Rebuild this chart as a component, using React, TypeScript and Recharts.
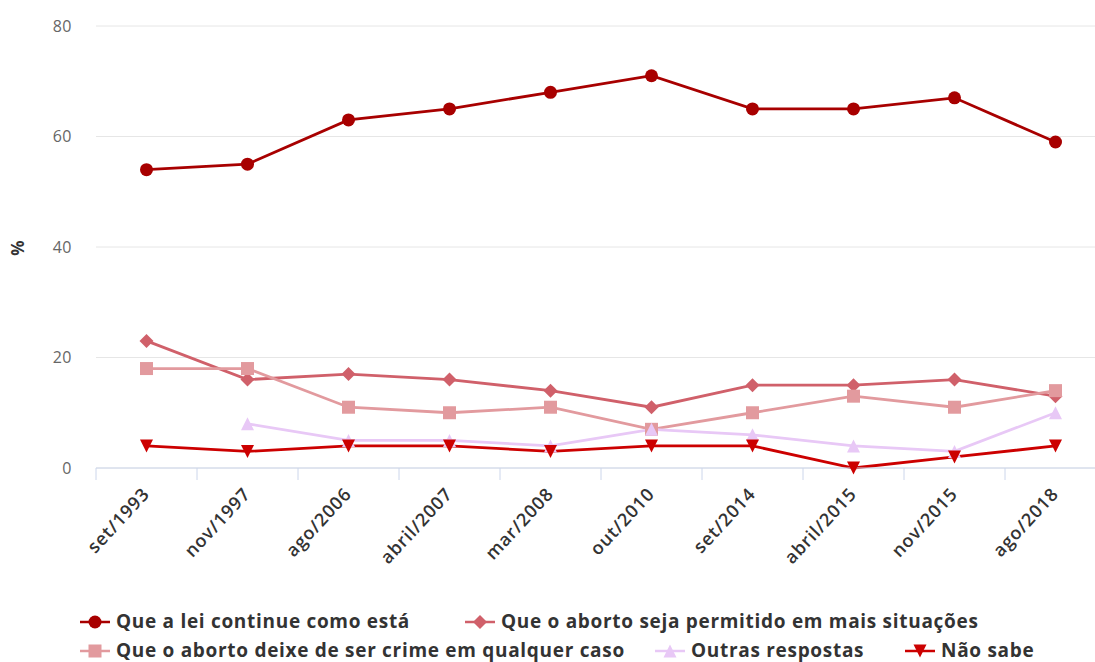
import { CartesianGrid, Legend, Line, LineChart, XAxis, YAxis } from "recharts";

const periods = [
  "set/1993", "nov/1997", "ago/2006", "abril/2007", "mar/2008",
  "out/2010", "set/2014", "abril/2015", "nov/2015", "ago/2018",
];

const leiContinue = [54, 55, 63, 65, 68, 71, 65, 65, 67, 59];
const maisSituacoes = [23, 16, 17, 16, 14, 11, 15, 15, 16, 13];
const deixeCrime = [18, 18, 11, 10, 11, 7, 10, 13, 11, 14];
const outras = [null, 8, 5, 5, 4, 7, 6, 4, 3, 10];
const naoSabe = [4, 3, 4, 4, 3, 4, 4, 0, 2, 4];

const yTicks = [0, 20, 40, 60, 80];

const data = periods.map((p, i) => ({
  periodo: p,
  lei: leiContinue[i],
  mais: maisSituacoes[i],
  crime: deixeCrime[i],
  outras: outras[i],
  naoSabe: naoSabe[i],
}));

type Shape = "circle" | "diamond" | "square" | "triangle" | "triangle-down";

const series: { key: string; name: string; color: string; shape: Shape }[] = [
  { key: "lei", name: "Que a lei continue como está", color: "#a80000", shape: "circle" },
  { key: "mais", name: "Que o aborto seja permitido em mais situações", color: "#d0606a", shape: "diamond" },
  { key: "crime", name: "Que o aborto deixe de ser crime em qualquer caso", color: "#e29a9e", shape: "square" },
  { key: "outras", name: "Outras respostas", color: "#e8c8f6", shape: "triangle" },
  { key: "naoSabe", name: "Não sabe", color: "#cc0000", shape: "triangle-down" },
];

const FONT = "'Open Sans', sans-serif";
const CHART_W = 1110;
const CHART_H = 662;
const PLOT_LEFT = 96;
const PLOT_RIGHT = 4;
const HALF_BAND = (CHART_W - PLOT_LEFT - PLOT_RIGHT) / periods.length / 2;

function Marker({ shape, cx, cy, color }: { shape: Shape; cx: number; cy: number; color: string }) {
  if (cx == null || cy == null) return null;
  switch (shape) {
    case "circle":
      return <circle cx={cx} cy={cy} r={6.5} fill={color} />;
    case "diamond":
      return <path d={`M${cx},${cy - 7}L${cx + 7},${cy}L${cx},${cy + 7}L${cx - 7},${cy}Z`} fill={color} />;
    case "square":
      return <rect x={cx - 6.5} y={cy - 6.5} width={13} height={13} fill={color} />;
    case "triangle":
      return <path d={`M${cx},${cy - 6.5}L${cx + 6.5},${cy + 6.5}L${cx - 6.5},${cy + 6.5}Z`} fill={color} />;
    default:
      return <path d={`M${cx - 6.5},${cy - 6.5}L${cx + 6.5},${cy - 6.5}L${cx},${cy + 6.5}Z`} fill={color} />;
  }
}

const XTick = (props: any) => {
  const { x, y, payload } = props;
  return (
    <g>
      <line x1={x - HALF_BAND} x2={x - HALF_BAND} y1={468} y2={480} stroke="#ccd6eb" />
      <g transform={`translate(${x + 4},${y + 19})`}>
        <text
          textAnchor="end"
          transform="rotate(-47)"
          fill="#333333"
          fontSize={18}
          fontWeight={600}
          letterSpacing={0.8}
          fontFamily={FONT}
        >
          {payload.value}
        </text>
      </g>
    </g>
  );
};

const legendRows = [
  [{ idx: 0, left: 80 }, { idx: 1, left: 465 }],
  [{ idx: 2, left: 80 }, { idx: 3, left: 655 }, { idx: 4, left: 905 }],
];

const LegendContent = () => (
  <div style={{ position: "relative", height: 62, fontFamily: FONT }}>
    {legendRows.map((row, r) =>
      row.map(({ idx, left }) => {
        const s = series[idx];
        return (
          <div
            key={s.key}
            style={{
              position: "absolute",
              left,
              top: r * 29 + 12,
              height: 19,
              display: "flex",
              alignItems: "center",
              whiteSpace: "nowrap",
              fontSize: 19,
              letterSpacing: 0.7,
              fontWeight: "bold",
              color: "#333333",
              lineHeight: "19px",
            }}
          >
            <svg width={30} height={16} style={{ marginRight: 6 }}>
              <line x1={0} x2={30} y1={8} y2={8} stroke={s.color} strokeWidth={2.5} />
              <Marker shape={s.shape} cx={15} cy={8} color={s.color} />
            </svg>
            {s.name}
          </div>
        );
      })
    )}
  </div>
);

export default function App() {
  return (
    <div style={{ position: "absolute", left: 0, top: 0, width: 1095, height: 662, overflow: "hidden", background: "#fff" }}>
      <LineChart
        width={CHART_W}
        height={CHART_H}
        data={data}
        margin={{ top: 26, right: PLOT_RIGHT, bottom: 0, left: 0 }}
      >
        <CartesianGrid vertical={false} stroke="#e6e6e6" />
        <XAxis
          dataKey="periodo"
          interval={0}
          height={132}
          padding={{ left: HALF_BAND, right: HALF_BAND }}
          tickLine={false}
          axisLine={{ stroke: "#ccd6eb" }}
          tick={<XTick />}
        />
        <YAxis
          width={PLOT_LEFT}
          domain={[0, 80]}
          ticks={yTicks}
          axisLine={false}
          tickLine={false}
          tickSize={0}
          tickMargin={24}
          tick={{ fill: "#666666", fontSize: 16, letterSpacing: 0.5, fontFamily: FONT }}
          label={{
            content: () => (
              <text
                x={19}
                y={248}
                transform="rotate(-90 19 248)"
                textAnchor="middle"
                dominantBaseline="middle"
                fill="#333333"
                fontSize={17}
                fontWeight="bold"
                fontFamily={FONT}
              >
                %
              </text>
            ),
          }}
        />
        <Legend verticalAlign="bottom" height={62} content={<LegendContent />} />
        {series.map((s) => (
          <Line
            key={s.key}
            dataKey={s.key}
            name={s.name}
            stroke={s.color}
            strokeWidth={2.8}
            isAnimationActive={false}
            dot={(p: any) => <Marker key={`${s.key}-${p.index}`} shape={s.shape} cx={p.cx} cy={p.cy} color={s.color} />}
            activeDot={false}
          />
        ))}
      </LineChart>
    </div>
  );
}
